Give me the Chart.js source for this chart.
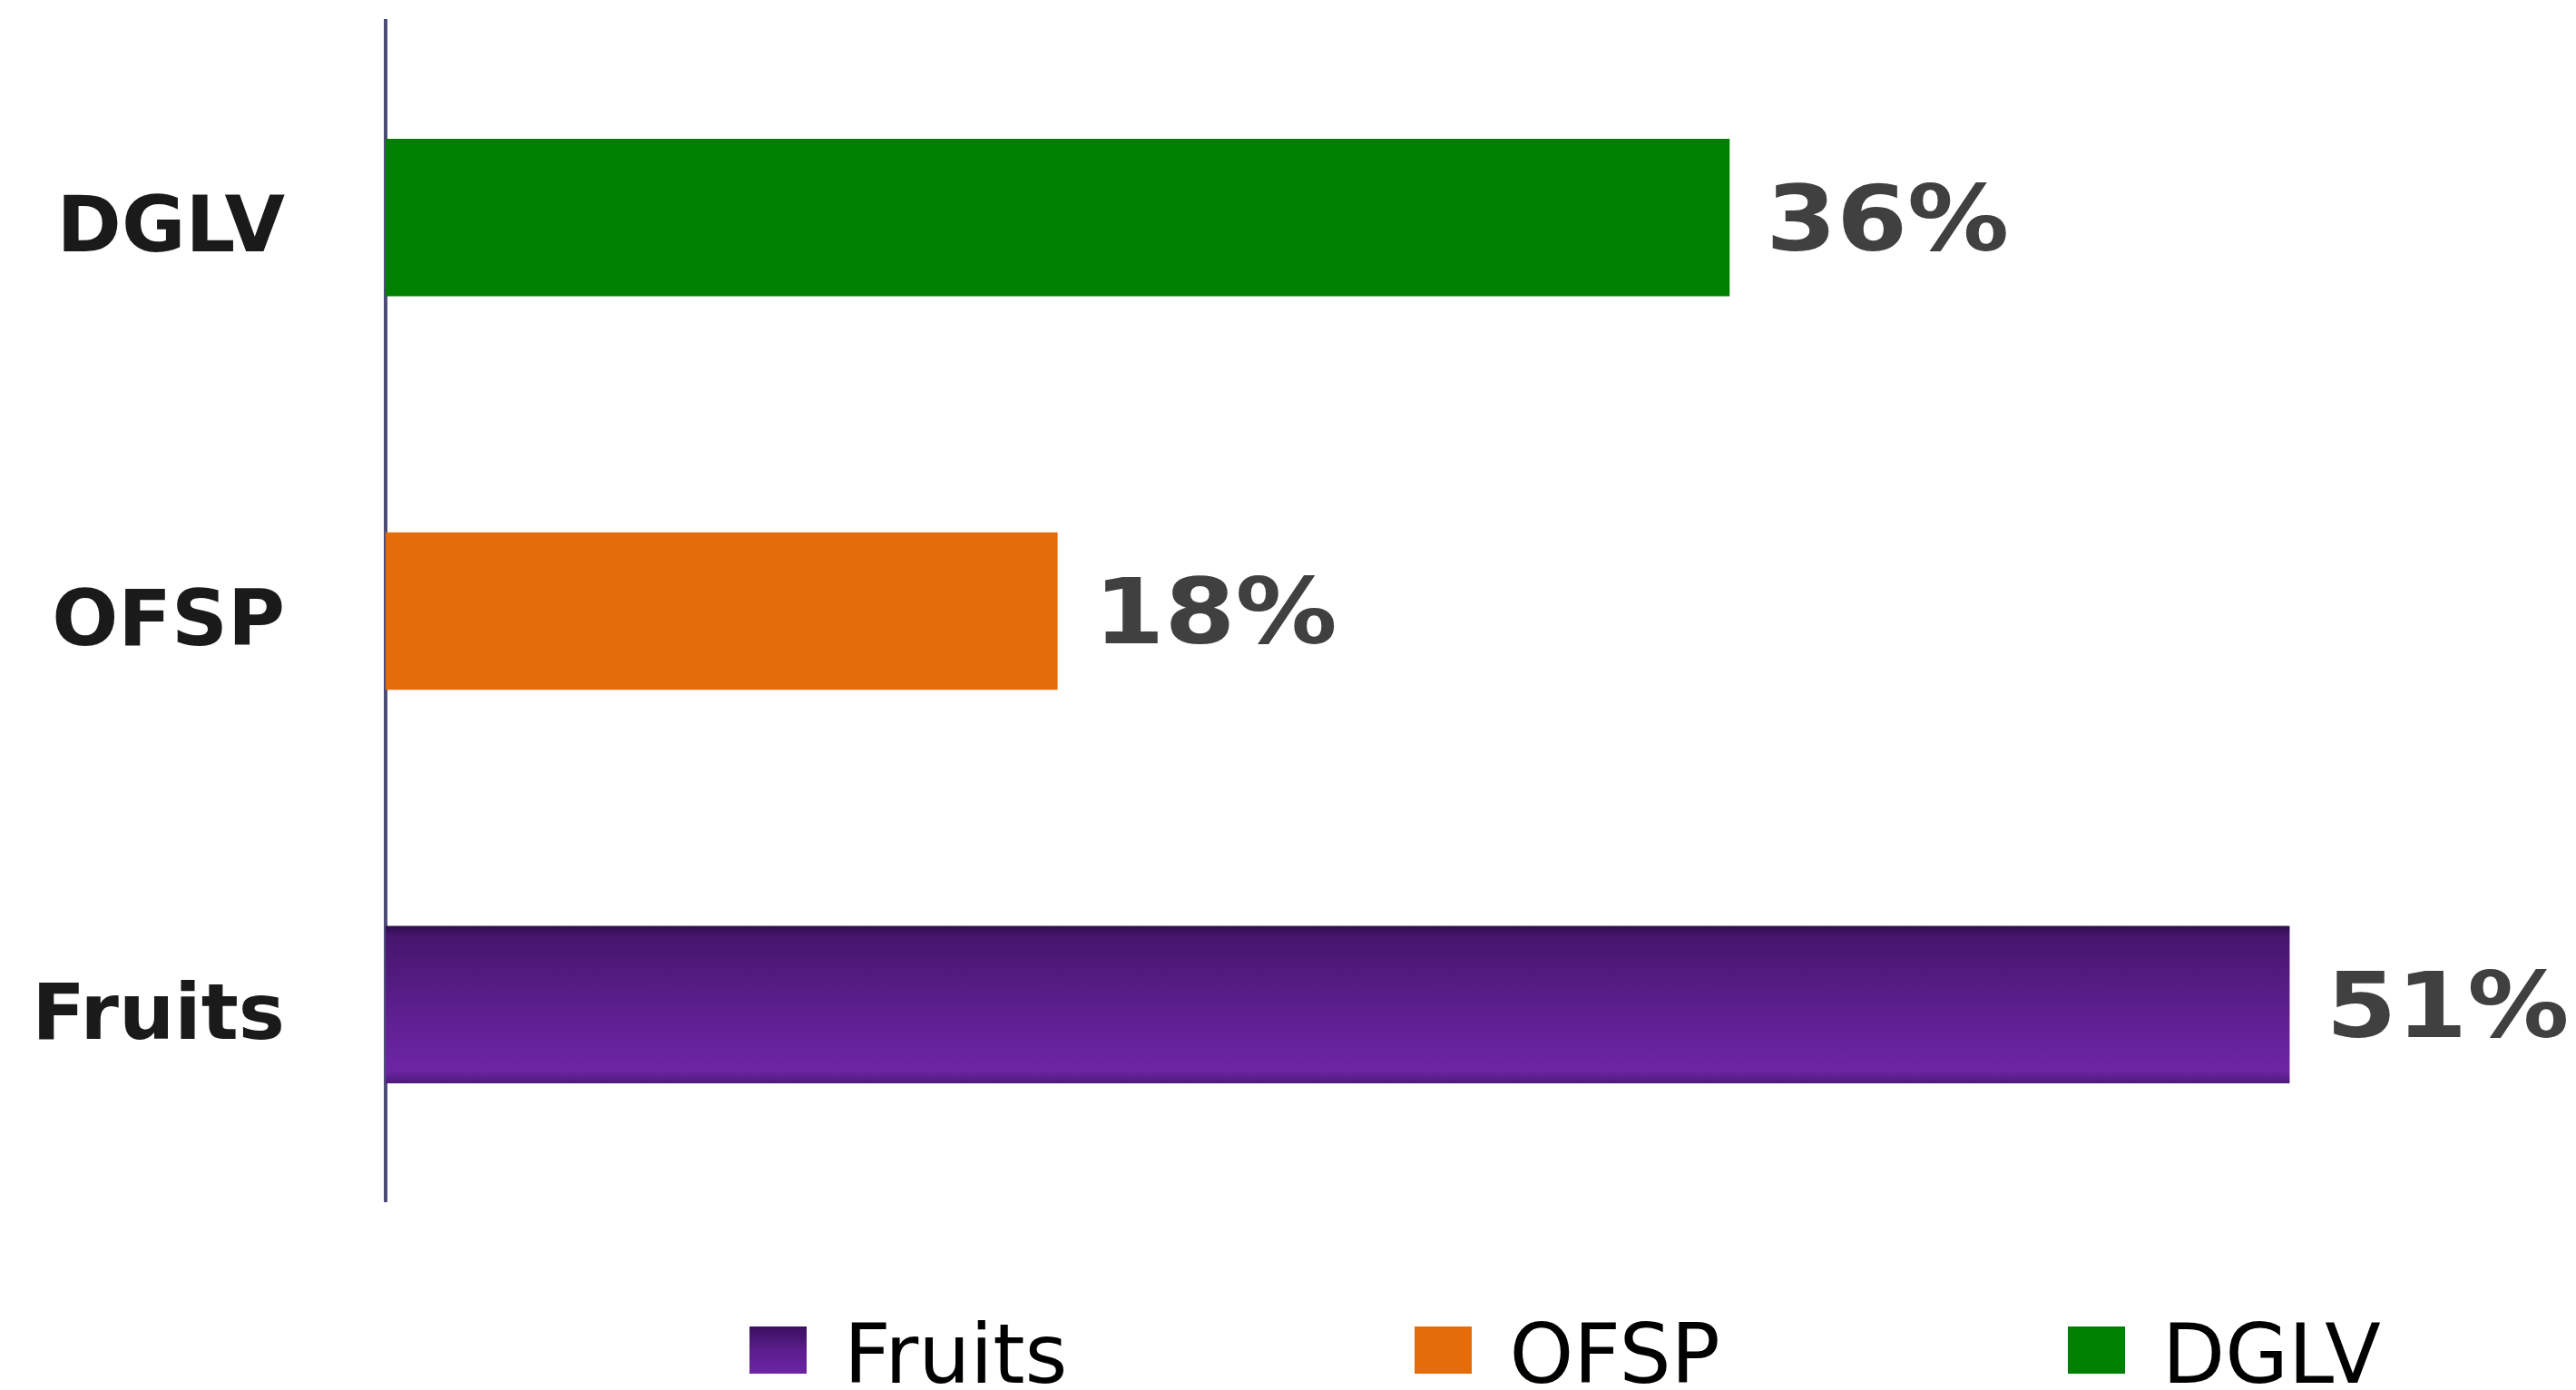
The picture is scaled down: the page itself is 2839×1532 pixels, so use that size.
<!DOCTYPE html>
<html>
<head>
<meta charset="utf-8">
<script src="https://cdn.jsdelivr.net/npm/chart.js@4.4.1/dist/chart.umd.min.js"></script>
<style>
  html, body { margin: 0; padding: 0; background: #fff; }
  #wrap { position: relative; width: 2839px; height: 1532px; }
  #legend {
    position: absolute; left: 826px; top: 1440px;
    display: flex; align-items: center;
    font-family: "DejaVu Sans", sans-serif; font-size: 90px; color: #000;
  }
  .item { display: flex; align-items: center; margin-right: 383px; }
  .box { width: 63px; height: 52px; margin-right: 41px; margin-top: -10px; }
</style>
</head>
<body>
<div id="wrap">
  <canvas id="chart" width="2839" height="1532"></canvas>
  <div id="legend"></div>
</div>
<script>
// categories in series order (first one sits at the bottom)
const categories = ['Fruits', 'OFSP', 'DGLV'];
const shares = [51, 18, 36];
const barColors = ['#5b1e8c', '#e46c0a', '#008000'];

// vertical shading used on the Fruits bar
const purpleStops = [
  [0, '#2e0c4c'], [0.06, '#46156c'], [0.5, '#5b1e8c'], [0.92, '#6d25a5'], [1, '#4e1a7a']
];

function fillFor(ctx) {
  const i = ctx.dataIndex;
  if (i !== 0) return barColors[i];
  const chart = ctx.chart;
  const y = chart.scales && chart.scales.y;
  if (!y) return barColors[i];
  const c = y.getPixelForValue(i);
  const half = (y.height / categories.length) * 0.4 / 2;
  if (!isFinite(c) || !isFinite(half) || half <= 0) return barColors[i];
  const g = chart.ctx.createLinearGradient(0, c - half, 0, c + half);
  purpleStops.forEach(([o, col]) => g.addColorStop(o, col));
  return g;
}

// percentage text at the end of each bar
const valueLabels = {
  id: 'valueLabels',
  afterDatasetsDraw(chart) {
    const ctx = chart.ctx;
    const meta = chart.getDatasetMeta(0);
    ctx.save();
    ctx.fillStyle = '#404040';
    ctx.font = 'bold 100px "DejaVu Sans"';
    ctx.textBaseline = 'middle';
    ctx.textAlign = 'left';
    meta.data.forEach((bar, i) => {
      ctx.save();
      ctx.translate(bar.x + 40, bar.y + 10);
      ctx.scale(1.12, 1);
      ctx.fillText(shares[i] + '%', 0, 0);
      ctx.restore();
    });
    ctx.restore();
  }
};

const chart = new Chart(document.getElementById('chart'), {
  type: 'bar',
  data: {
    labels: categories,
    datasets: [{
      data: shares,
      backgroundColor: fillFor,
      borderWidth: 0,
      categoryPercentage: 1,
      barPercentage: 0.4
    }]
  },
  options: {
    indexAxis: 'y',
    responsive: false,
    animation: false,
    layout: { padding: { top: 23, bottom: 208, left: 0, right: 151 } },
    scales: {
      x: { display: false, min: 0, max: 55 },
      y: {
        reverse: true,
        grid: { display: false, drawTicks: false },
        border: { display: true, color: '#4d4d78', width: 4 },
        ticks: {
          color: '#1a1a1a',
          padding: 111,
          labelOffset: 15,
          font: { family: '"DejaVu Sans"', size: 86, weight: 'bold' }
        },
        afterFit: (scale) => {
          scale.width = 425;
          // labels sit inside their bands, no extra room needed above/below
          scale.paddingTop = 0;
          scale.paddingBottom = 0;
        }
      }
    },
    plugins: {
      legend: { display: false },
      tooltip: { enabled: false }
    }
  },
  plugins: [valueLabels]
});
chart.update();

// legend row under the plot
const legendEl = document.getElementById('legend');
categories.forEach((name, i) => {
  const item = document.createElement('div');
  item.className = 'item';
  const box = document.createElement('span');
  box.className = 'box';
  box.style.background = i === 0
    ? 'linear-gradient(#3a1060, #5b1e8c 50%, #6d25a5)'
    : barColors[i];
  const txt = document.createElement('span');
  txt.textContent = name;
  item.appendChild(box);
  item.appendChild(txt);
  legendEl.appendChild(item);
});
</script>
</body>
</html>
